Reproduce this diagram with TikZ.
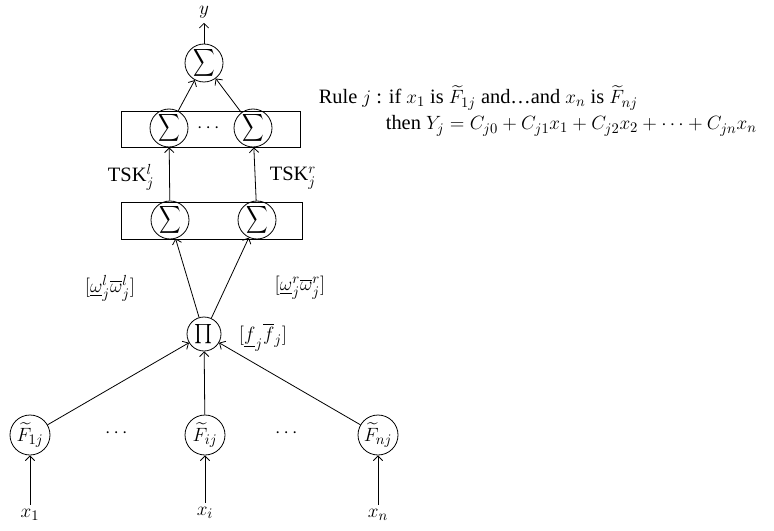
\documentclass[tikz,border=0pt]{standalone}
\usepackage{fontspec}
\setmainfont{Liberation Serif}
\usepackage{amsmath,graphicx}
\usetikzlibrary{arrows.meta,positioning}

\begin{document}
\begin{tikzpicture}[x=0.75pt,y=-0.75pt,line width=0.6pt,
  >={Straight Barb[length=3.5pt,width=7pt]},
  unit/.style={draw,circle,inner sep=0pt,minimum size=28.5pt},
  sumunit/.style={unit,label={[font=\fontsize{15}{18}\selectfont]center:\scalebox{0.78}[1]{$\displaystyle\sum$}}},
  punit/.style={draw,circle,inner sep=0pt,minimum size=25.5pt,
    label={[font=\fontsize{15}{18}\selectfont]center:$\prod$}},
  funit/.style={draw,circle,inner sep=0pt,minimum size=30pt},
  lab/.style={font=\fontsize{15.3}{18}\selectfont}]
\useasboundingbox (0,0) rectangle (774,531);
% layer boxes
\draw (121,111) rectangle (300,147);
\draw (121,202) rectangle (302,239);
% output sum
\node[sumunit] (out) at (204,63) {};
\node[lab] (y) at (204,12) {$y$};
\draw[->] (out) -- (y);
% type reduction layer
\node[sumunit] (s1l) at (169,128) {};
\node[sumunit] (s1r) at (253,128) {};
\node[lab] at (210,128) {$\cdots$};
% consequent layer
\node[sumunit] (s2l) at (170,220) {};
\node[sumunit] (s2r) at (257,220) {};
\draw[->] (s1l) -- (out);
\draw[->] (s1r) -- (out);
\draw[->] (s2l) -- (s1l);
\draw[->] (s2r) -- (s1r);
\node[lab] at (131,177) {TSK$^l_j$};
\node[lab] at (293,178) {TSK$^r_j$};
% firing strength
\node[punit] (pi) at (204,334) {};
\draw[->] (pi) -- (s2l);
\draw[->] (pi) -- (s2r);
\node[lab] at (110,288) {$[\underline{\omega}^l_j\overline{\omega}^l_j]$};
\node[lab] at (300,288) {$[\underline{\omega}^r_j\overline{\omega}^r_j]$};
\node[lab] at (263,337) {$[\underline{f}_j\overline{f}_j]$};
% membership functions
\node[funit,lab] (f1) at (30,435) {$\widetilde{F}_{1j}$};
\node[funit,lab] (fi) at (205,435) {$\widetilde{F}_{ij}$};
\node[funit,lab] (fn) at (378,435) {$\widetilde{F}_{nj}$};
\node[lab] at (118,433) {$\cdots$};
\node[lab] at (288,433) {$\cdots$};
\foreach \n in {f1,fi,fn} \draw[->] (\n) -- (pi);
% inputs
\node[lab] (x1) at (30,515) {$x_1$};
\node[lab] (xi) at (205,513) {$x_i$};
\node[lab] (xn) at (378,515) {$x_n$};
\draw[->] (x1) -- (f1);
\draw[->] (xi) -- (fi);
\draw[->] (xn) -- (fn);
% rule text
\node[lab,anchor=base west] (rule) at (314,104) {Rule $j$ : if $x_1$ is $\widetilde{F}_{1j}$ and\dots and $x_n$ is $\widetilde{F}_{nj}$};
\node[lab,anchor=base west] (then) at (381,130) {then $Y_j=C_{j0}+C_{j1}x_1+C_{j2}x_2+\cdots+C_{jn}x_n$};
\end{tikzpicture}
\end{document}
